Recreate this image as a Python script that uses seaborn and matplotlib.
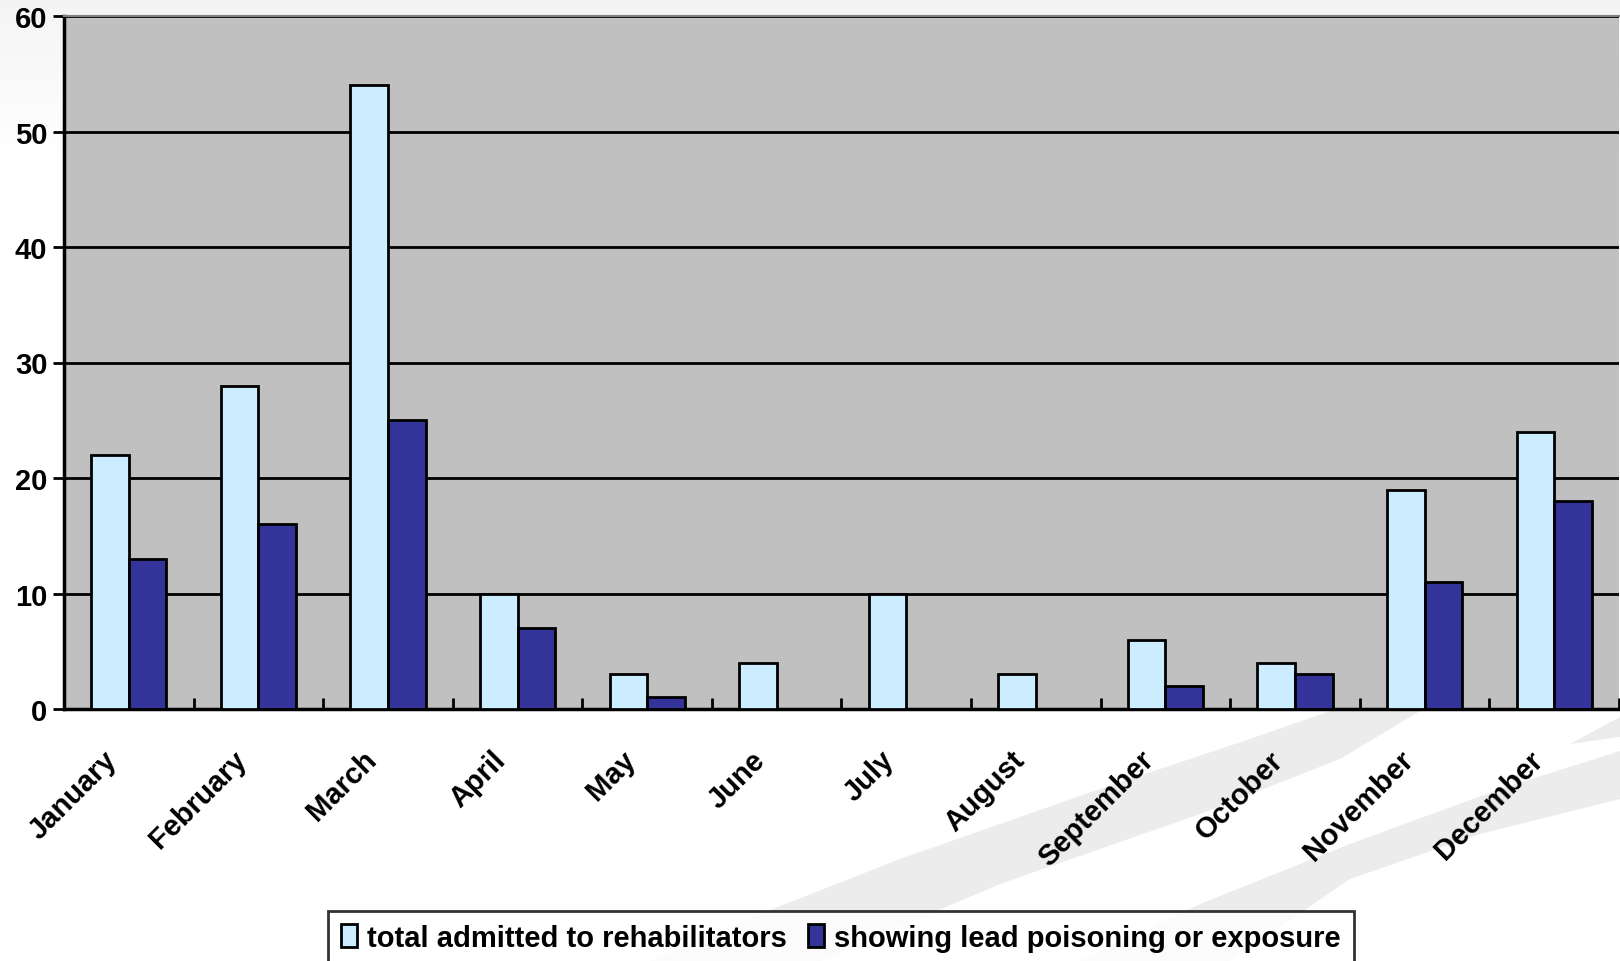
import matplotlib
matplotlib.use("Agg")
import matplotlib.pyplot as plt
import matplotlib.transforms as mtransforms
from matplotlib.patches import Polygon
import numpy as np
import pandas as pd
import seaborn as sns

months = ["January", "February", "March", "April", "May", "June", "July",
          "August", "September", "October", "November", "December"]
total_admitted = [22, 28, 54, 10, 3, 4, 10, 3, 6, 4, 19, 24]
lead_poisoning = [13, 16, 25, 7, 1, 0, 0, 0, 2, 3, 11, 18]
series_names = ["total admitted to rehabilitators", "showing lead poisoning or exposure"]
y_ticks = [0, 10, 20, 30, 40, 50, 60]

df = pd.DataFrame({"month": months, series_names[0]: total_admitted,
                   series_names[1]: lead_poisoning})
long_df = df.melt(id_vars="month", var_name="series", value_name="count")

sns.set_style("white")
plt.rcParams["font.family"] = ["Liberation Sans", "DejaVu Sans"]
plt.rcParams["font.weight"] = "bold"
plt.rcParams["text.color"] = "black"
plt.rcParams["xtick.color"] = "black"
plt.rcParams["ytick.color"] = "black"

W, H = 1620, 962
fig = plt.figure(figsize=(W / 100, H / 100), dpi=100)

# slide background: grey fade at the top and pale swooshes at the bottom right
bg = fig.add_axes([0, 0, 1, 1], zorder=-10)
grad = np.linspace(0, 1, 256)[:, None] * np.ones((1, 256))
bg.imshow(np.clip(grad * 6, 0, 1), cmap="Greys_r", vmin=-10, vmax=1,
          aspect="auto", extent=[0, W, H, 0])
swooshes = [
    [(650, 962), (760, 915), (900, 860), (1100, 790), (1250, 740), (1330, 712),
     (1420, 712), (1340, 760), (1200, 815), (1000, 885), (820, 962)],
    [(1080, 962), (1200, 905), (1350, 845), (1500, 790), (1620, 752),
     (1620, 800), (1480, 835), (1350, 880), (1230, 962)],
    [(1570, 745), (1620, 718), (1620, 738)],
]
for pts in swooshes:
    bg.add_patch(Polygon(pts, closed=True, facecolor="#ececec", edgecolor="none"))
bg.set_xlim(0, W)
bg.set_ylim(H, 0)
bg.axis("off")

ax = fig.add_axes([64 / W, 1 - 710 / H, 1555 / W, 693 / H])
ax.set_facecolor("#C0C0C0")

sns.barplot(data=long_df, x="month", y="count", hue="series",
            palette=["#CCECFF", "#333399"], saturation=1, edgecolor="black",
            linewidth=2, width=0.58, gap=0, ax=ax, legend=True, zorder=3)

ax.set_ylim(0, 60)
ax.set_xlim(-0.5, len(months) - 0.5)
ax.set_yticks(y_ticks)
ax.yaxis.grid(True, color="black", linewidth=2, zorder=0)
ax.set_axisbelow(True)
ax.set_xlabel("")
ax.set_ylabel("")

for side in ["left", "bottom"]:
    ax.spines[side].set_color("black")
    ax.spines[side].set_linewidth(2.5)
ax.spines["top"].set_color("#808080")
ax.spines["top"].set_linewidth(1.5)
ax.spines["right"].set_visible(False)

ax.tick_params(axis="y", direction="out", length=8, width=2, color="black",
               labelcolor="black", labelsize=21, pad=4, left=True)
ax.tick_params(axis="x", which="major", length=0, labelsize=21, pad=0,
               labelcolor="black")
ax.set_xticks(np.arange(len(months) + 1) - 0.5, minor=True)
ax.tick_params(axis="x", which="minor", direction="in", length=8, width=2,
               color="black", bottom=True)
shift = mtransforms.ScaledTranslation(-16 / 100, -46 / 100, fig.dpi_scale_trans)
for lbl in ax.get_xticklabels():
    lbl.set_rotation(45)
    lbl.set_ha("right")
    lbl.set_va("center")
    lbl.set_rotation_mode("anchor")
    lbl.set_fontweight("bold")
    lbl.set_transform(lbl.get_transform() + shift)
for lbl in ax.get_yticklabels():
    lbl.set_fontweight("bold")

handles, labels = ax.get_legend_handles_labels()
ax.get_legend().remove()
leg = fig.legend(handles, labels, loc="lower center", bbox_to_anchor=(0.519, -0.004),
                 ncol=2, frameon=True, fancybox=False, fontsize=21,
                 handlelength=0.55, handleheight=0.8, handletextpad=0.35,
                 columnspacing=0.7, borderpad=0.45, borderaxespad=0)
leg.get_frame().set_edgecolor("black")
leg.get_frame().set_linewidth(2)
for t in leg.get_texts():
    t.set_fontweight("bold")
    t.set_color("black")

fig.savefig("out.png", dpi=100)
